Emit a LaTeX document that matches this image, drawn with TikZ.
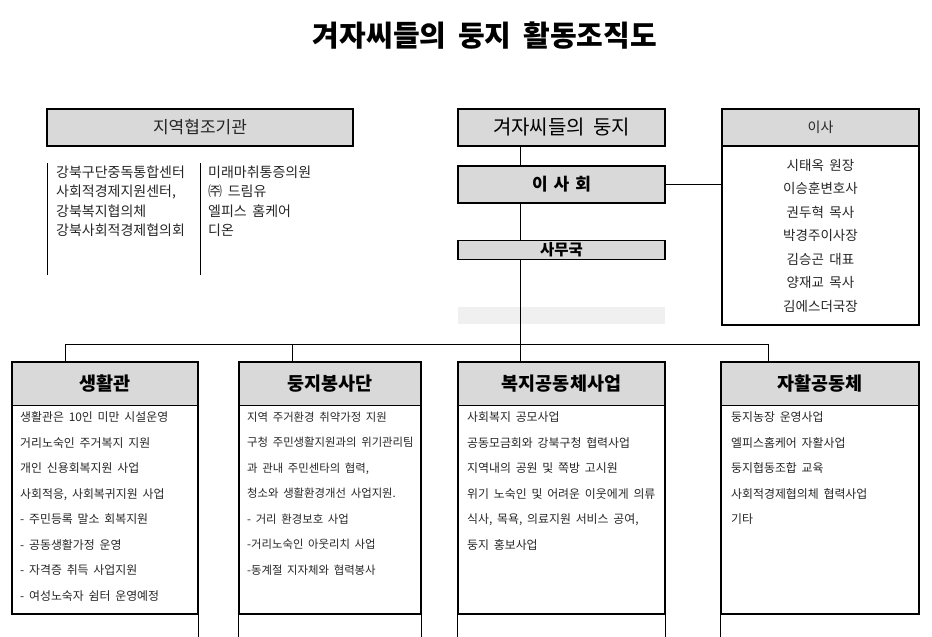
\documentclass[tikz,border=0pt]{standalone}
\usepackage{fontspec}
\setmainfont{Noto Sans CJK KR}[WordSpace=1.8]
\usetikzlibrary{positioning}
\definecolor{NestGray}{HTML}{D9D9D9}
\definecolor{NestBand}{HTML}{F0F0F0}
\definecolor{NestText}{HTML}{262626}
\begin{document}
\begin{tikzpicture}[x=1pt,y=-1pt,
  topbox/.style={draw,line width=1.2pt,fill=NestGray,inner sep=0pt,minimum height=37pt,font=\fontsize{15}{18}\selectfont},
  head/.style={draw,line width=1pt,fill=NestGray,inner sep=0pt,minimum height=43pt,font=\bfseries\fontsize{18.5}{21}\selectfont},
  body/.style={inner sep=0pt,minimum height=208pt},
  list/.style={anchor=north west,inner sep=0pt,align=left,text=NestText,font=\fontsize{11.9}{25.5}\selectfont},
  frame/.style={line width=2pt},
  link/.style={line width=1pt}
]
\useasboundingbox (0,0) rectangle (932,637);
\node[font=\bfseries\fontsize{29}{32}\selectfont] (title) at (485,36) {겨자씨들의 둥지 활동조직도};
\node[topbox,minimum width=306pt,text=NestText,font=\fontsize{17}{20}\selectfont] (region) at (200,127.5) {지역협조기관};
\node[list,font=\fontsize{14}{19.5}\selectfont] (partA) at (56,165.5) {강북구단중독통합센터\\사회적경제지원센터,\\강북복지협의체\\강북사회적경제협의회};
\node[list,font=\fontsize{14}{19.5}\selectfont] (partB) at (208,165.5) {미래마취통증의원\\㈜ 드림유\\엘피스 홈케어\\디온};
\draw[link] (47,163) -- (47,275);
\draw[link] (200,163) -- (200,275);
\node[topbox,minimum width=207pt,font=\fontsize{20}{23}\selectfont] (nest) at (561.5,127.5) {겨자씨들의 둥지};
\node[topbox,minimum width=207pt,font=\bfseries\fontsize{17}{20}\selectfont] (board) at (561.5,184.5) {이\hspace{6pt}사\hspace{6pt}회};
\node[topbox,minimum width=207pt,minimum height=18.5pt,font=\bfseries\fontsize{15.5}{17}\selectfont] (office) at (561.5,250) {사무국};
\node[fill=NestBand,inner sep=0pt,minimum width=207pt,minimum height=17pt] (blank) at (561.5,315.5) {};
\node[topbox,minimum width=197pt,text=NestText,font=\fontsize{14}{16}\selectfont] (dirh) at (820.5,127.5) {이사};
\node[draw,frame,minimum width=197pt,minimum height=179pt,align=center,text=NestText,font=\fontsize{13.5}{23.5}\selectfont] (dirb) at (820.5,235.5) {시태옥 원장\\이승훈변호사\\권두혁 목사\\박경주이사장\\김승곤 대표\\양재교 목사\\김에스더국장};
\node[head,minimum width=186pt] (lifeh) at (105,383.5) {생활관};
\node[body,below=0pt of lifeh,minimum width=186pt] (lifeb) {};
\node[head,minimum width=182pt] (servh) at (330,383.5) {둥지봉사단};
\node[body,below=0pt of servh,minimum width=182pt] (servb) {};
\node[head,minimum width=207pt] (welfh) at (561.5,383.5) {복지공동체사업};
\node[body,below=0pt of welfh,minimum width=207pt] (welfb) {};
\node[head,minimum width=198pt] (selfh) at (820,383.5) {자활공동체};
\node[body,below=0pt of selfh,minimum width=198pt] (selfb) {};
\draw[frame] (lifeh.north west) rectangle (lifeb.south east);
\draw[frame] (servh.north west) rectangle (servb.south east);
\draw[frame] (welfh.north west) rectangle (welfb.south east);
\draw[frame] (selfh.north west) rectangle (selfb.south east);
\node[list] (lifet) at (20,411.5) {생활관은 10인 미만 시설운영\\거리노숙인 주거복지 지원\\개인 신용회복지원 사업\\사회적응, 사회복귀지원 사업\\- 주민등록 말소 회복지원\\- 공동생활가정 운영\\- 자격증 취득 사업지원\\- 여성노숙자 쉼터 운영예정};
\node[list,font=\fontsize{11.4}{25.5}\selectfont] (servt) at (247,411.8) {지역 주거환경 취약가정 지원\\구청 주민생활지원과의 위기관리팀\\과 관내 주민센타의 협력,\\청소와 생활환경개선 사업지원.\\- 거리 환경보호 사업\\-거리노숙인 아웃리치 사업\\-동계절 지자체와 협력봉사};
\node[list] (welft) at (467,411.5) {사회복지 공모사업\\공동모금회와 강북구청 협력사업\\지역내의 공원 및 쪽방 고시원\\위기 노숙인 및 어려운 이웃에게 의류\\식사, 목욕, 의료지원 서비스 공여,\\둥지 홍보사업};
\node[list] (selft) at (731,411.5) {둥지농장 운영사업\\엘피스홈케어 자활사업\\둥지협동조합 교육\\사회적경제협의체 협력사업\\기타};
\coordinate (spine) at (520,344);
\coordinate (busL) at (65,344);
\coordinate (busB) at (292,344);
\coordinate (busR) at (768,344);
\draw[link] (nest.south -| spine) -- (board.north -| spine);
\draw[link] (board.south -| spine) -- (office.north -| spine);
\draw[link] (office.south -| spine) -- (welfh.north -| spine);
\draw[link] (board.east) -- (board.east -| dirb.west);
\draw[link] (busL |- lifeh.north) -- (busL) -- (busR) -- (busR |- selfh.north);
\draw[link] (busB) -- (busB |- servh.north);
\draw[link] (lifeb.south east) -- ++(0,24);
\draw[link] (servb.south west) -- ++(0,24);
\draw[link] (servb.south east) -- ++(0,24);
\draw[link] (welfb.south west) -- ++(0,24);
\draw[link] (welfb.south east) -- ++(0,24);
\draw[link] (selfb.south west) -- ++(0,24);
\end{tikzpicture}
\end{document}
